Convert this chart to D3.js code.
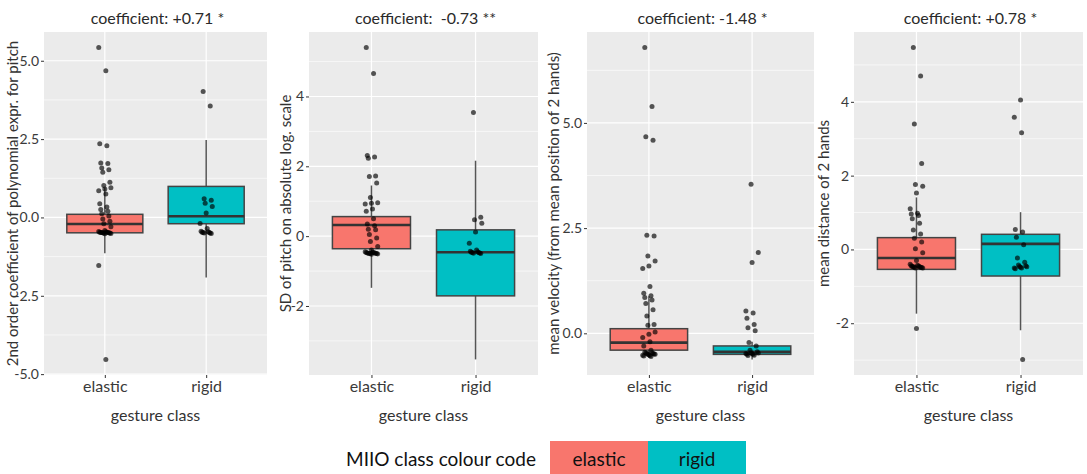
<!DOCTYPE html>
<html><head><meta charset="utf-8">
<script src="https://cdn.jsdelivr.net/npm/d3@7"></script>
<style>
body{margin:0;background:#fff;}
svg text{font-family:Lato,"Open Sans",sans-serif;white-space:pre;}
</style></head>
<body><svg id="chart" width="1087" height="474"></svg>
<script>
// ---------- data ----------
const categories = ["elastic", "rigid"];
const titles = ["coefficient: +0.71 *", "coefficient:  -0.73 **", "coefficient: -1.48 *", "coefficient: +0.78 *"];
const yTitles = ["2nd order coefficient of polynomial expr. for pitch", "SD of pitch on absolute log. scale",
  "mean velocity (from mean position of 2 hands)", "mean distance of 2 hands"];
const xTitle = "gesture class";

const p1Ticks = [-5, -2.5, 0, 2.5, 5];
const p1TickLabels = ["-5.0", "-2.5", "0.0", "2.5", "5.0"];
const p2Ticks = [-2, 0, 2, 4];
const p2TickLabels = ["-2", "0", "2", "4"];
const p3Ticks = [0, 2.5, 5];
const p3TickLabels = ["0.0", "2.5", "5.0"];
const p4Ticks = [-2, 0, 2, 4];
const p4TickLabels = ["-2", "0", "2", "4"];

// box stats: [lower whisker, Q1, median, Q3, upper whisker]
const p1BoxElastic = [-1.14, -0.49, -0.21, 0.10, 0.95];
const p1BoxRigid = [-1.92, -0.20, 0.04, 0.99, 2.47];
const p2BoxElastic = [-1.48, -0.36, 0.32, 0.56, 1.45];
const p2BoxRigid = [-3.53, -1.71, -0.46, 0.18, 2.16];
const p3BoxElastic = [-0.58, -0.40, -0.22, 0.11, 0.88];
const p3BoxRigid = [-0.62, -0.50, -0.44, -0.30, -0.20];
const p4BoxElastic = [-1.74, -0.54, -0.23, 0.32, 1.41];
const p4BoxRigid = [-2.19, -0.72, 0.15, 0.41, 1.01];

// jittered observations
const p1Elastic = [5.42, 4.68, 2.35, 2.29, 1.74, 1.72, 1.58, 1.52, 1.44, 1.12, 1.02, 0.95, 0.91, 0.85, 0.75, 0.44, 0.33, 0.25, 0.2, 0.12, 0.05, -0.05, -0.12, -0.2, -0.3, -0.42, -0.45, -0.46, -0.47, -0.47, -0.48, -0.48, -0.48, -0.49, -0.49, -0.5, -0.5, -0.51, -0.52, -1.53, -4.53];
const p1Rigid = [4.02, 3.56, 0.6, 0.55, 0.45, 0.35, 0.14, -0.19, -0.35, -0.44, -0.46, -0.47, -0.48, -0.48, -0.5, -0.5, -0.51];
const p2Elastic = [5.4, 4.66, 2.31, 2.27, 2.23, 1.72, 1.71, 1.52, 1.11, 0.96, 0.94, 0.92, 0.78, 0.71, 0.5, 0.35, 0.3, 0.2, 0.18, 0.05, -0.05, -0.15, -0.3, -0.4, -0.45, -0.46, -0.47, -0.47, -0.48, -0.48, -0.49, -0.49, -0.5, -0.5, -0.5, -0.51, -0.52];
const p2Rigid = [3.54, 0.54, 0.47, 0.37, 0.12, -0.2, -0.4, -0.43, -0.45, -0.46, -0.47, -0.47, -0.48, -0.49, -0.5];
const p3Elastic = [6.79, 5.39, 4.67, 4.59, 2.33, 2.31, 1.84, 1.72, 1.6, 1.54, 1.11, 0.95, 0.89, 0.85, 0.79, 0.71, 0.56, 0.41, 0.21, 0.19, 0.03, -0.02, -0.1, -0.2, -0.3, -0.4, -0.45, -0.46, -0.47, -0.48, -0.48, -0.49, -0.5, -0.5, -0.51, -0.52, -0.53, -0.54, -0.55];
const p3Rigid = [3.54, 1.92, 1.68, 0.53, 0.48, 0.36, 0.21, 0.13, 0.06, -0.22, -0.3, -0.4, -0.44, -0.46, -0.47, -0.48, -0.48, -0.5, -0.5, -0.52, -0.53];
const p4Elastic = [5.47, 4.7, 3.4, 2.33, 1.76, 1.71, 1.53, 1.1, 0.98, 0.96, 0.92, 0.83, 0.71, 0.53, 0.42, 0.3, 0.2, 0.02, -0.09, -0.3, -0.4, -0.43, -0.44, -0.45, -0.46, -0.47, -0.47, -0.48, -0.48, -0.49, -0.5, -0.5, -2.14];
const p4Rigid = [4.05, 3.58, 3.16, 0.54, 0.47, 0.33, 0.13, -0.23, -0.35, -0.42, -0.44, -0.46, -0.47, -0.48, -0.5, -0.5, -0.52, -2.98];

const legendTitle = "MIIO class colour code";
const colors = ["#F8766D", "#00BFC4"];

// ---------- layout ----------
const panels = [
  {left: 44, width: 223, ticks: p1Ticks, labels: p1TickLabels, boxes: [p1BoxElastic, p1BoxRigid], pts: [p1Elastic, p1Rigid], ytx: 12},
  {left: 309, width: 229, ticks: p2Ticks, labels: p2TickLabels, boxes: [p2BoxElastic, p2BoxRigid], pts: [p2Elastic, p2Rigid], ytx: 285},
  {left: 587, width: 227, ticks: p3Ticks, labels: p3TickLabels, boxes: [p3BoxElastic, p3BoxRigid], pts: [p3Elastic, p3Rigid], ytx: 553},
  {left: 854, width: 229, ticks: p4Ticks, labels: p4TickLabels, boxes: [p4BoxElastic, p4BoxRigid], pts: [p4Elastic, p4Rigid], ytx: 823}
];
const plotTop = 32, plotBottom = 375;
const svg = d3.select("#chart");

panels.forEach((p, pi) => {
  const allVals = p.pts.flat().concat(p.boxes.flat());
  const [mn, mx] = d3.extent(allVals);
  const pad = (mx - mn) * 0.05;
  const y = d3.scaleLinear().domain([mn - pad, mx + pad]).range([plotBottom, plotTop]);
  const x = d3.scalePoint().domain(categories).range([p.left, p.left + p.width]).padding(0.6);
  const step = x.step();
  const g = svg.append("g");

  g.append("rect").attr("x", p.left).attr("y", plotTop).attr("width", p.width).attr("height", plotBottom - plotTop).attr("fill", "#EBEBEB");

  // minor grid
  const t = p.ticks, d = t[1] - t[0];
  const minors = [];
  for (let v = t[0] - d / 2; v <= y.domain()[1]; v += d) if (v >= y.domain()[0] && !t.includes(v)) minors.push(v);
  g.selectAll(".minor").data(minors).join("line")
    .attr("x1", p.left).attr("x2", p.left + p.width)
    .attr("y1", v => y(v)).attr("y2", v => y(v))
    .attr("stroke", "#fff").attr("stroke-width", 0.6);
  g.selectAll(".major").data(t).join("line")
    .attr("x1", p.left).attr("x2", p.left + p.width)
    .attr("y1", v => y(v)).attr("y2", v => y(v))
    .attr("stroke", "#fff").attr("stroke-width", 1.2);
  g.selectAll(".vmajor").data(categories).join("line")
    .attr("x1", c => x(c)).attr("x2", c => x(c)).attr("y1", plotTop).attr("y2", plotBottom)
    .attr("stroke", "#fff").attr("stroke-width", 1.2);

  // axes
  const yAxis = d3.axisLeft(y).tickValues(t).tickFormat((v, i) => p.labels[i]).tickSize(3).tickPadding(2);
  const ya = g.append("g").attr("transform", `translate(${p.left},0)`).call(yAxis);
  ya.select(".domain").remove();
  ya.selectAll("line").attr("stroke", "#333");
  ya.selectAll("text").attr("fill", "#3a3a3a").attr("font-size", 14);

  const xAxis = d3.axisBottom(x).tickSize(3).tickPadding(3);
  const xa = g.append("g").attr("transform", `translate(0,${plotBottom})`).call(xAxis);
  xa.select(".domain").remove();
  xa.selectAll("line").attr("stroke", "#333");
  xa.selectAll("text").attr("fill", "#3a3a3a").attr("font-size", 16);

  // boxes
  const bw = step * 0.75;
  categories.forEach((c, ci) => {
    const b = p.boxes[ci];
    const cx = x(c);
    g.append("line").attr("x1", cx).attr("x2", cx).attr("y1", y(b[0])).attr("y2", y(b[1]))
      .attr("stroke", "#555").attr("stroke-width", 1.5);
    g.append("line").attr("x1", cx).attr("x2", cx).attr("y1", y(b[3])).attr("y2", y(b[4]))
      .attr("stroke", "#555").attr("stroke-width", 1.5);
    g.append("rect").attr("x", cx - bw / 2).attr("width", bw)
      .attr("y", y(b[3])).attr("height", y(b[1]) - y(b[3]))
      .attr("fill", colors[ci]).attr("stroke", "#444").attr("stroke-width", 1.5);
    g.append("line").attr("x1", cx - bw / 2).attr("x2", cx + bw / 2).attr("y1", y(b[2])).attr("y2", y(b[2]))
      .attr("stroke", "#333").attr("stroke-width", 2.6);
  });

  // jittered points (deterministic jitter)
  categories.forEach((c, ci) => {
    const vals = p.pts[ci];
    g.selectAll(null).data(vals).join("circle")
      .attr("cx", (v, i) => x(c) + (((i * 7 + ci * 3 + pi) % 13) - 6) / 6 * step * 0.06)
      .attr("cy", v => y(v)).attr("r", 2.5)
      .attr("fill", "#000").attr("fill-opacity", 0.65);
  });

  // titles
  const mid = (x(categories[0]) + x(categories[1])) / 2;
  g.append("text").attr("x", mid + 2).attr("y", 24).attr("text-anchor", "middle")
    .attr("font-size", 16).attr("fill", "#2a2a2a").text(titles[pi]);
  g.append("text").attr("x", mid).attr("y", 421).attr("text-anchor", "middle")
    .attr("font-size", 16).attr("fill", "#333").text(xTitle);
  g.append("text").attr("transform", `translate(${p.ytx},${(plotTop + plotBottom) / 2}) rotate(-90)`)
    .attr("text-anchor", "middle").attr("dominant-baseline", "central")
    .attr("font-size", 15).attr("fill", "#333").text(yTitles[pi]);
});

// legend
const lg = svg.append("g");
lg.append("text").attr("x", 346).attr("y", 466).attr("font-size", 19).attr("fill", "#111").text(legendTitle);
const lx = d3.scaleBand().domain(categories).range([550, 746]);
lg.selectAll("rect").data(categories).join("rect")
  .attr("x", c => lx(c)).attr("width", lx.bandwidth()).attr("y", 441).attr("height", 33)
  .attr("fill", (c, i) => colors[i]);
lg.selectAll(".lt").data(categories).join("text")
  .attr("x", c => lx(c) + lx.bandwidth() / 2).attr("y", 466).attr("text-anchor", "middle")
  .attr("font-size", 19).attr("fill", "#111").text(c => c);
</script></body></html>
